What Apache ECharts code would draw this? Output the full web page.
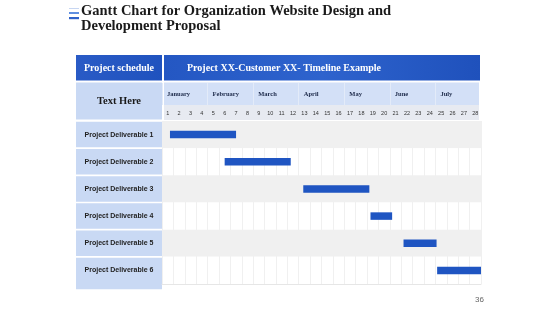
<!DOCTYPE html>
<html>
<head>
<meta charset="utf-8">
<script src="https://cdn.jsdelivr.net/npm/echarts@6/dist/echarts.min.js"></script>
<style>html,body{margin:0;padding:0;background:#fff}#c{width:560px;height:315px}</style>
</head>
<body>
<div id="c"></div>
<script>
var deliverables = ['Project Deliverable 1','Project Deliverable 2','Project Deliverable 3','Project Deliverable 4','Project Deliverable 5','Project Deliverable 6'];
var startDay = [0.7, 5.5, 12.4, 18.3, 21.2, 24.15];
var endDay   = [6.5, 11.3, 18.2, 20.2, 24.1, 28];
var months = ['January','February','March','April','May','June','July'];
var days = ['1','2','3','4','5','6','7','8','9','10','11','12','13','14','15','16','17','18','19','20','21','22','23','24','25','26','27','28'];

var GL = 162, GR = 481, GT = 121, GB = 284;
var rowH = (GB - GT) / deliverables.length;
var chart = echarts.init(document.getElementById('c'));
var serif = '"Liberation Serif", "DejaVu Serif", serif';

var gfx = [
  {type:'rect', shape:{x:69,y:8,width:10,height:1}, style:{fill:'#c7d6f2'}},
  {type:'rect', shape:{x:69,y:12,width:10,height:2}, style:{fill:'#5f8fe0'}},
  {type:'rect', shape:{x:69,y:17,width:10,height:2.2}, style:{fill:'#2f62c9'}},
  {type:'text', x:81, y:4, style:{text:'Gantt Chart for Organization Website Design and', font:'bold 14.5px ' + serif, fill:'#1a1a1a'}},
  {type:'text', x:81, y:19, style:{text:'Development Proposal', font:'bold 14.5px ' + serif, fill:'#1a1a1a'}},
  {type:'rect', shape:{x:76,y:55,width:86,height:25.5}, style:{fill:new echarts.graphic.LinearGradient(0,0,1,1,[{offset:0,color:'#2a5bc6'},{offset:1,color:'#1f52be'}])}},
  {type:'rect', shape:{x:164,y:55,width:316,height:25.5}, style:{fill:new echarts.graphic.LinearGradient(0,0,1,0,[{offset:0,color:'#2457c3'},{offset:0.5,color:'#2e63cd'},{offset:1,color:'#1f51bc'}])}},
  {type:'text', x:119, y:68, style:{text:'Project schedule', font:'bold 10px ' + serif, fill:'#ffffff', align:'center', verticalAlign:'middle'}},
  {type:'text', x:187, y:68, style:{text:'Project XX-Customer XX- Timeline Example', font:'bold 10px ' + serif, fill:'#ffffff', verticalAlign:'middle'}},
  {type:'rect', shape:{x:76,y:82.5,width:86,height:37}, style:{fill:'#c9d9f4'}},
  {type:'text', x:119, y:101.5, style:{text:'Text Here', font:'bold 10.5px ' + serif, fill:'#1a1a1a', align:'center', verticalAlign:'middle'}},
  {type:'rect', shape:{x:164,y:82.5,width:315,height:22.5}, style:{fill:'#d3e0f7'}},
  {type:'rect', shape:{x:164,y:105,width:315,height:15}, style:{fill:'#e7eaf1'}},
  {type:'text', x:484, y:300, style:{text:'36', font:'8px "Liberation Sans", Arial, sans-serif', fill:'#666', align:'right', verticalAlign:'middle'}}
];
for (var i = 0; i < deliverables.length; i++) {
  var y0 = GT + i * rowH + 0.8;
  var h = rowH - 1.6 + (i === deliverables.length - 1 ? 6 : 0);
  gfx.push({type:'rect', z:-1, shape:{x:76, y:y0, width:86, height:h}, style:{fill:'#c9d9f4'}});
}

chart.setOption({
  animation: false,
  graphic: gfx,
  grid: {left: GL, top: GT, width: GR - GL, height: GB - GT},
  xAxis: [
    {type:'value', min:0, max:28, interval:1, position:'bottom',
     axisLine:{show:true, lineStyle:{color:'#e6e6e6'}}, axisTick:{show:false}, axisLabel:{show:false},
     splitLine:{show:true, lineStyle:{color:'#f0f0f0', width:1}}},
    {type:'category', data: days, position:'top', boundaryGap:true,
     axisLine:{show:false}, axisTick:{show:false}, splitLine:{show:false},
     axisLabel:{fontSize:5.5, color:'#333', margin:5, interval:0, fontFamily:'"Liberation Sans", Arial'}},
    {type:'value', min:0, max:28, interval:4, position:'top', offset:16,
     axisLine:{show:false}, splitLine:{show:false},
     axisTick:{show:true, length:22, lineStyle:{color:'#e3ebf9'}},
     axisLabel:{align:'left', padding:[0,0,0,5], margin:7, fontSize:6.5, fontWeight:'bold', color:'#1d2a4a', fontFamily: serif, showMaxLabel:false,
       formatter:function(v){ return months[v/4] || ''; }}}
  ],
  yAxis: {type:'category', data: deliverables, inverse:true,
    axisLine:{show:false}, axisTick:{show:false}, splitLine:{show:false},
    splitArea:{show:true, areaStyle:{color:['#f0f0f0','#ffffff']}},
    axisLabel:{margin:43, align:'center', fontSize:7, fontWeight:'bold', color:'#222', fontFamily:'"Liberation Sans", Arial, sans-serif'}},
  series: [
    {type:'bar', stack:'g', barWidth:7.5, itemStyle:{color:'transparent'}, data: startDay, silent:true},
    {type:'bar', stack:'g', barWidth:7.5, itemStyle:{color:'#1f55c2'}, data: endDay.map(function(e,i){return +(e - startDay[i]).toFixed(2);})}
  ]
});
</script>
</body>
</html>
